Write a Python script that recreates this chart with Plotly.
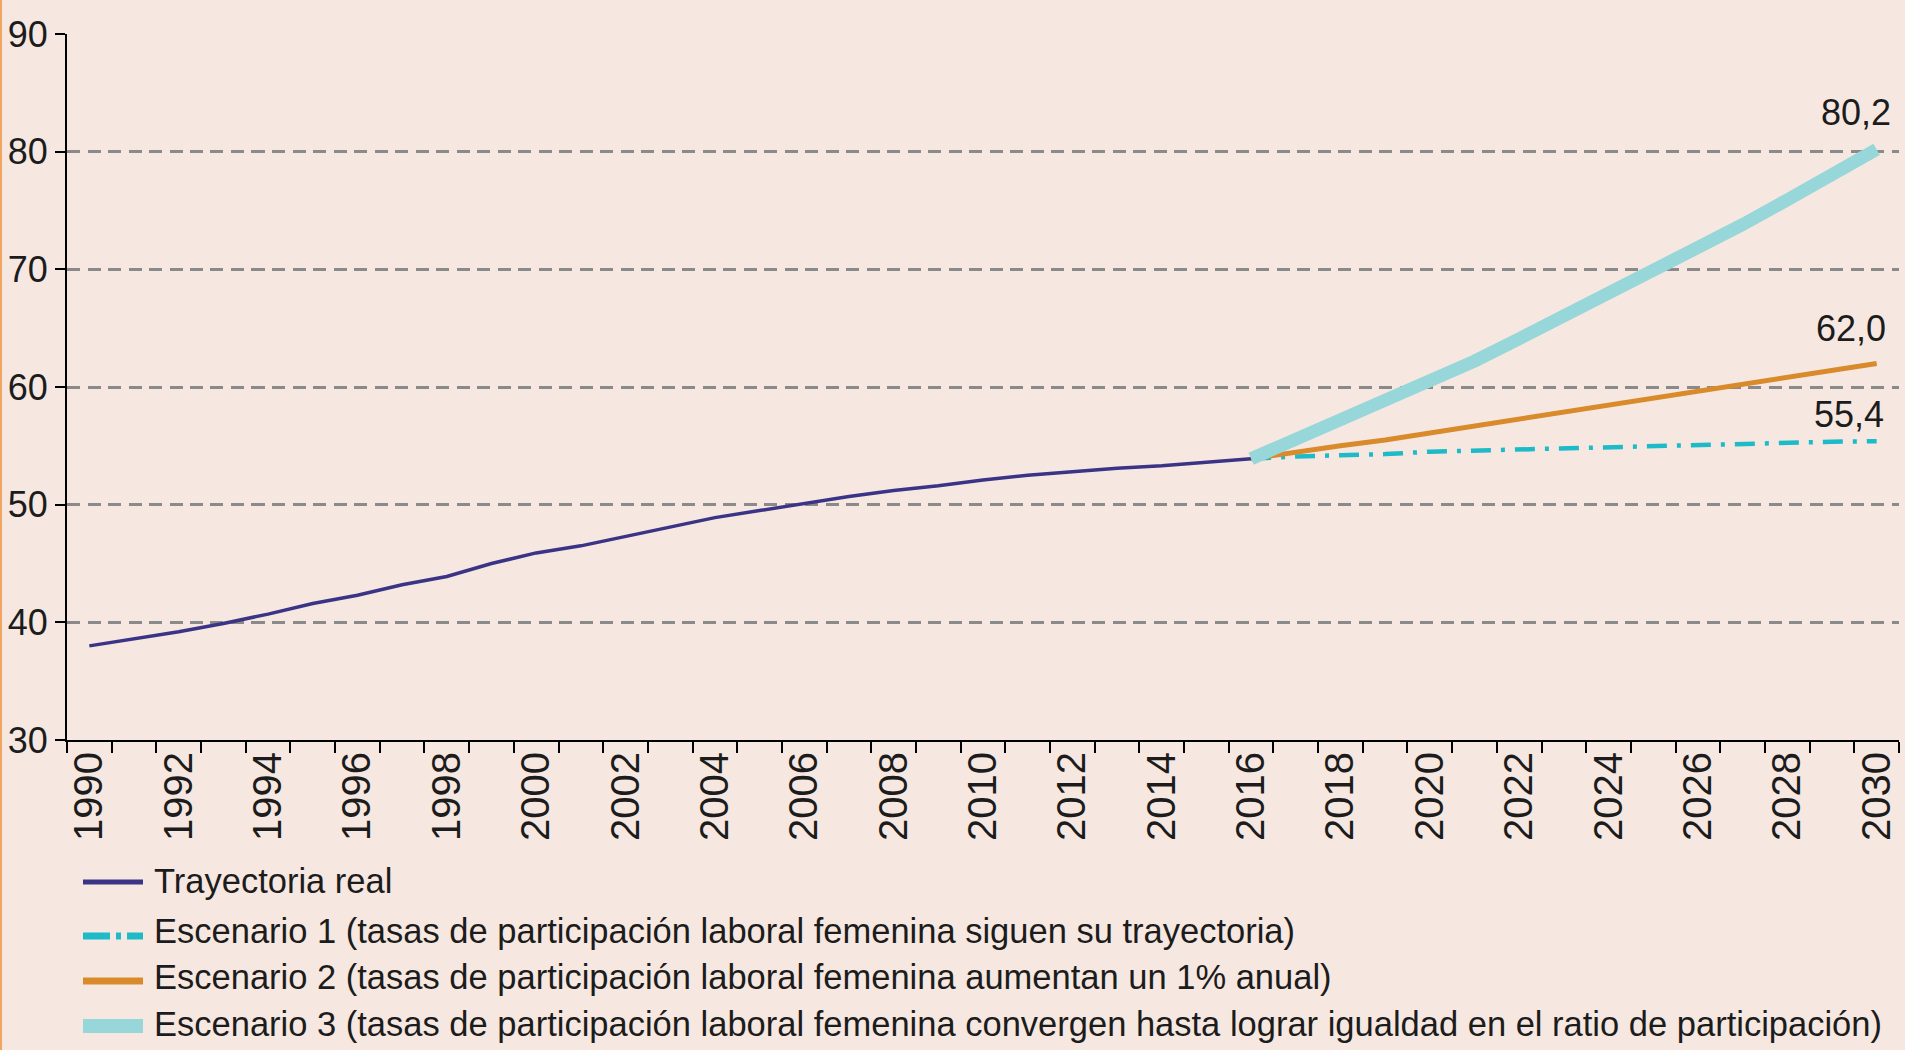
import plotly.graph_objects as go

# ---------------- data ----------------
years_real = list(range(1990, 2017))
trayectoria_real = [38.0, 38.6, 39.2, 39.9, 40.7, 41.6, 42.3, 43.2, 43.9, 45.0,
                    45.9, 46.5, 47.3, 48.1, 48.9, 49.5, 50.1, 50.7, 51.2, 51.6,
                    52.1, 52.5, 52.8, 53.1, 53.3, 53.6, 53.9]

years_proj = list(range(2016, 2031))
escenario1 = [53.9, 54.1, 54.2, 54.3, 54.5, 54.6, 54.7, 54.8, 54.9, 55.0,
              55.1, 55.2, 55.3, 55.35, 55.4]
escenario2 = [53.9, 54.5, 55.0, 55.5, 56.1, 56.6, 57.2, 57.8, 58.4, 59.1,
              59.7, 60.3, 60.9, 61.5, 62.0]
escenario3 = [53.9, 55.5, 57.2, 58.9, 60.5, 62.2, 64.1, 66.0, 67.9, 69.8,
              71.8, 73.8, 75.9, 78.0, 80.2]

x_tick_years = list(range(1990, 2031, 2))
y_tick_values = [30, 40, 50, 60, 70, 80, 90]

series_names = [
    "Trayectoria real",
    "Escenario 1 (tasas de participación laboral femenina siguen su trayectoria)",
    "Escenario 2 (tasas de participación laboral femenina aumentan un 1% anual)",
    "Escenario 3 (tasas de participación laboral femenina convergen hasta lograr igualdad en el ratio de participación)",
]

# ---------------- styles ----------------
BG = "#F6E8E1"
TEXT = "#1c1c1c"
FONT = "Liberation Sans, Arial, sans-serif"
C_REAL = "#3A3386"
C_E1 = "#1DBAC7"
C_E2 = "#D98B2B"
C_E3 = "#97D7D9"

fig = go.Figure()
fig.add_trace(go.Scatter(x=years_real, y=trayectoria_real, mode="lines",
                         line=dict(color=C_REAL, width=3.5), name=series_names[0]))
fig.add_trace(go.Scatter(x=years_proj, y=escenario1, mode="lines",
                         line=dict(color=C_E1, width=4.5, dash="20px,10px,4px,10px"),
                         name=series_names[1]))
fig.add_trace(go.Scatter(x=years_proj, y=escenario2, mode="lines",
                         line=dict(color=C_E2, width=5), name=series_names[2]))
fig.add_trace(go.Scatter(x=years_proj, y=escenario3, mode="lines",
                         line=dict(color=C_E3, width=13), name=series_names[3]))

# end-value labels
def fmt(v):
    return f"{v:.1f}".replace(".", ",")

end_labels = [(escenario3[-1], 16, 37), (escenario2[-1], 11, 35), (escenario1[-1], 9, 27)]
for val, xs, ys in end_labels:
    fig.add_annotation(x=years_proj[-1], y=val, xref="x", yref="y", text=fmt(val),
                       showarrow=False, xanchor="right", yanchor="middle",
                       xshift=xs, yshift=ys, font=dict(family=FONT, size=36, color=TEXT))

# custom legend (keys + labels) below plot
PLOT_BOTTOM = 740
legend_rows = [
    (series_names[0], C_REAL, 5, "solid", 882, 881),
    (series_names[1], C_E1, 7, "27px,6px,5px,6px", 936, 931),
    (series_names[2], C_E2, 7, "solid", 981, 977),
    (series_names[3], C_E3, 14, "solid", 1026, 1024),
]
for name, col, w, dash, key_y, text_y in legend_rows:
    fig.add_shape(type="line", xref="paper", yref="paper",
                  xsizemode="pixel", ysizemode="pixel", xanchor=0, yanchor=0,
                  x0=16, x1=76, y0=PLOT_BOTTOM - key_y, y1=PLOT_BOTTOM - key_y,
                  line=dict(color=col, width=w, dash=dash))
    fig.add_annotation(xref="paper", yref="paper", x=0, y=0, xshift=84.5,
                       yshift=PLOT_BOTTOM - text_y, xanchor="left", yanchor="middle",
                       text=name, showarrow=False,
                       font=dict(family=FONT, size=34.5, color=TEXT))

# thin orange border at left edge
fig.add_shape(type="line", xref="paper", yref="paper", xsizemode="pixel",
              ysizemode="pixel", xanchor=0, yanchor=0, x0=-66, x1=-66,
              y0=-310, y1=740, line=dict(color="#F0A560", width=2))

fig.update_layout(
    width=1905, height=1050,
    margin=dict(l=67, r=6, t=34, b=310, autoexpand=False),
    paper_bgcolor=BG, plot_bgcolor=BG,
    showlegend=False,
)
fig.update_xaxes(
    range=[1989.5, 2030.5], automargin=False,
    tickmode="array", tickvals=x_tick_years, ticktext=[str(y) for y in x_tick_years],
    ticks="", tickangle=-90, ticklabelstandoff=-6,
    tickfont=dict(family=FONT, size=40, color=TEXT),
    showline=True, linecolor="black", linewidth=2,
    showgrid=False, zeroline=False,
    minor=dict(tickmode="array", tickvals=[y - 0.5 for y in range(1990, 2032)],
               ticks="outside", ticklen=11, tickwidth=2, tickcolor="black", showgrid=False),
)
fig.update_yaxes(
    range=[30, 90], automargin=False, tickmode="array", tickvals=y_tick_values,
    ticks="outside", ticklen=10, tickwidth=2, tickcolor="black", ticklabelstandoff=0,
    tickfont=dict(family=FONT, size=36, color=TEXT),
    showline=True, linecolor="black", linewidth=2,
    showgrid=True, gridcolor="#8A8A8A", gridwidth=2.5, griddash="13px,7.5px",
    zeroline=False,
)

fig.write_html("out.html", config={"displayModeBar": False},
               post_script="document.body.style.margin='0px';")
